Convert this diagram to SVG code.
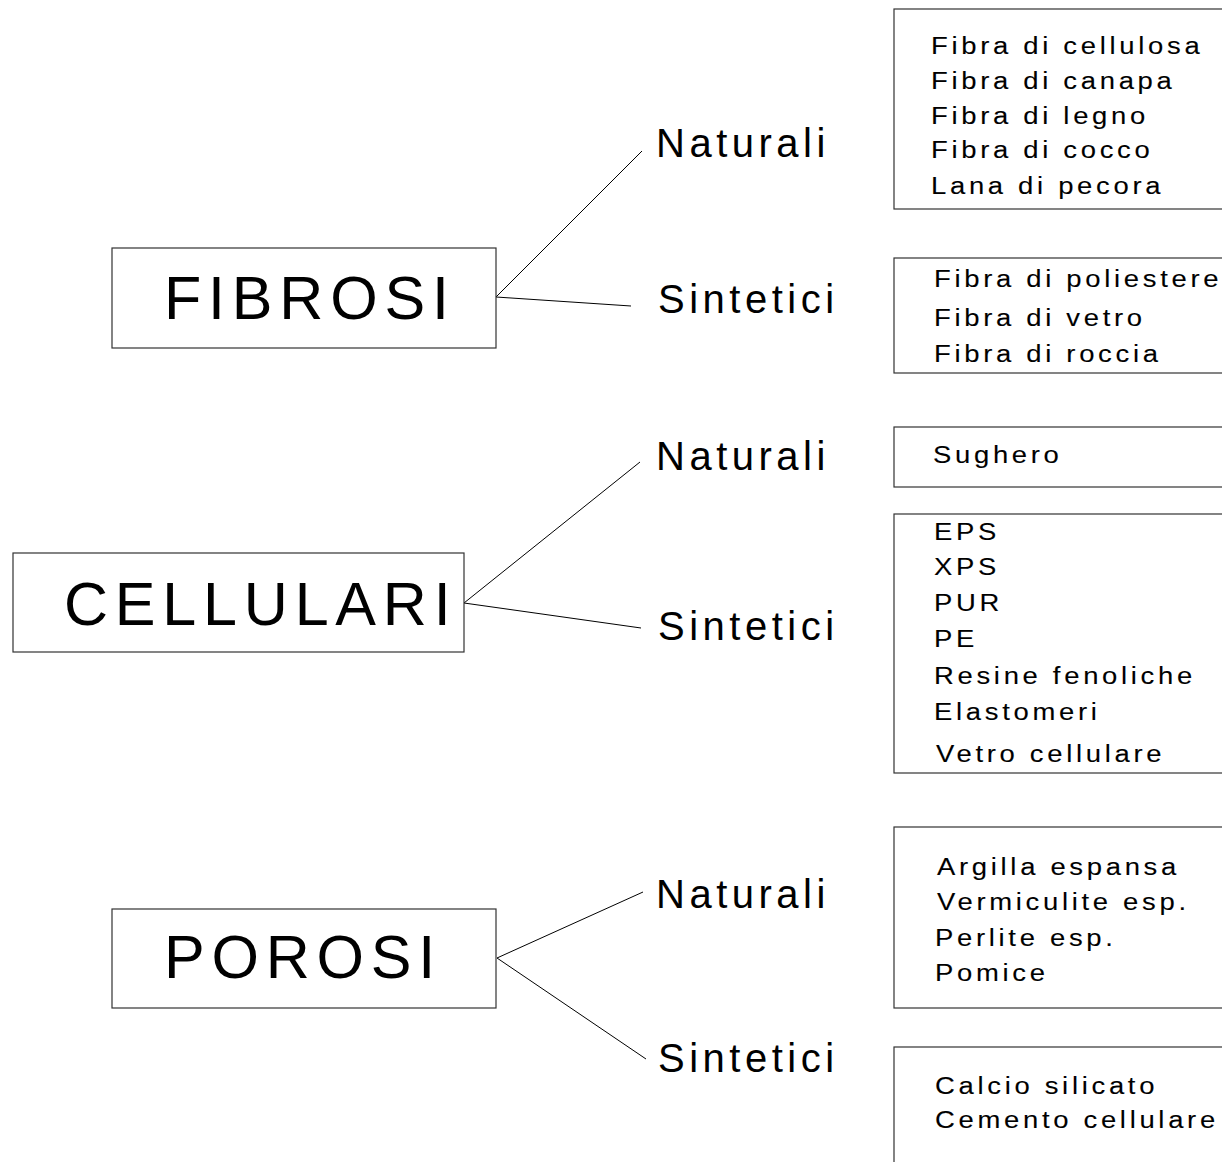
<svg xmlns="http://www.w3.org/2000/svg" width="1222" height="1162" viewBox="0 0 1222 1162">
<style>
.box{fill:#fff;stroke:#333;stroke-width:1.2}
.main{font-family:"Liberation Sans",Arial,sans-serif;font-size:61px;letter-spacing:6.8px;fill:#000}
.sub{font-family:"Liberation Sans",Arial,sans-serif;font-size:40px;letter-spacing:4.5px;fill:#000}
.lst{font-family:"Liberation Sans",Arial,sans-serif;font-size:24.5px;letter-spacing:3.3px;fill:#000;stroke:#000;stroke-width:0.1}
.con line{stroke:#000;stroke-width:1}
</style>
<rect width="1222" height="1162" fill="#fff"/>
<g id="connectors" class="con">
<line x1="496" y1="297" x2="642" y2="151"/>
<line x1="496" y1="297" x2="631" y2="306"/>
<line x1="464" y1="603" x2="640" y2="462"/>
<line x1="464" y1="603" x2="641" y2="628"/>
<line x1="497" y1="958" x2="643" y2="892"/>
<line x1="497" y1="958" x2="646" y2="1059"/>
</g>
<g id="fibrosi"><rect class="box" x="112" y="248" width="384" height="100"/><text class="main" x="164" y="319">FIBROSI</text></g>
<g id="cellulari"><rect class="box" x="13" y="553" width="451" height="99"/><text class="main" x="64" y="625" font-size="60" letter-spacing="7">CELLULARI</text></g>
<g id="porosi"><rect class="box" x="112" y="909" width="384" height="99"/><text class="main" x="164" y="978" letter-spacing="7.5">POROSI</text></g>
<g id="fibrosi-naturali"><text class="sub" x="656" y="157">Naturali</text></g>
<g id="fibrosi-sintetici"><text class="sub" x="658" y="313">Sintetici</text></g>
<g id="cellulari-naturali"><text class="sub" x="656" y="470">Naturali</text></g>
<g id="cellulari-sintetici"><text class="sub" x="658" y="640">Sintetici</text></g>
<g id="porosi-naturali"><text class="sub" x="656" y="908">Naturali</text></g>
<g id="porosi-sintetici"><text class="sub" x="658" y="1072">Sintetici</text></g>
<g id="list-fibrosi-naturali"><rect class="box" x="894" y="9" width="400" height="200"/>
<text class="lst" transform="translate(931,54) scale(1.12,1)">Fibra di cellulosa</text>
<text class="lst" transform="translate(931,89) scale(1.12,1)">Fibra di canapa</text>
<text class="lst" transform="translate(931,124) scale(1.12,1)">Fibra di legno</text>
<text class="lst" transform="translate(931,158) scale(1.12,1)">Fibra di cocco</text>
<text class="lst" transform="translate(931,194) scale(1.12,1)">Lana di pecora</text></g>
<g id="list-fibrosi-sintetici"><rect class="box" x="894" y="258" width="400" height="115"/>
<text class="lst" transform="translate(934,287) scale(1.12,1)">Fibra di poliestere</text>
<text class="lst" transform="translate(934,326) scale(1.12,1)">Fibra di vetro</text>
<text class="lst" transform="translate(934,362) scale(1.12,1)">Fibra di roccia</text></g>
<g id="list-cellulari-naturali"><rect class="box" x="894" y="427" width="400" height="60"/>
<text class="lst" transform="translate(933,463) scale(1.12,1)">Sughero</text></g>
<g id="list-cellulari-sintetici"><rect class="box" x="894" y="514" width="400" height="259"/>
<text class="lst" transform="translate(934,540) scale(1.12,1)">EPS</text>
<text class="lst" transform="translate(934,575) scale(1.12,1)">XPS</text>
<text class="lst" transform="translate(934,611) scale(1.12,1)">PUR</text>
<text class="lst" transform="translate(934,647) scale(1.12,1)">PE</text>
<text class="lst" transform="translate(934,684) scale(1.12,1)">Resine fenoliche</text>
<text class="lst" transform="translate(934,720) scale(1.12,1)">Elastomeri</text>
<text class="lst" transform="translate(936,762) scale(1.12,1)">Vetro cellulare</text></g>
<g id="list-porosi-naturali"><rect class="box" x="894" y="827" width="400" height="181"/>
<text class="lst" transform="translate(937,875) scale(1.12,1)">Argilla espansa</text>
<text class="lst" transform="translate(937,910) scale(1.12,1)">Vermiculite esp.</text>
<text class="lst" transform="translate(935,946) scale(1.12,1)">Perlite esp.</text>
<text class="lst" transform="translate(935,981) scale(1.12,1)">Pomice</text></g>
<g id="list-porosi-sintetici"><rect class="box" x="894" y="1047" width="400" height="200"/>
<text class="lst" transform="translate(935,1094) scale(1.12,1)">Calcio silicato</text>
<text class="lst" transform="translate(935,1128) scale(1.12,1)">Cemento cellulare</text></g>
</svg>
